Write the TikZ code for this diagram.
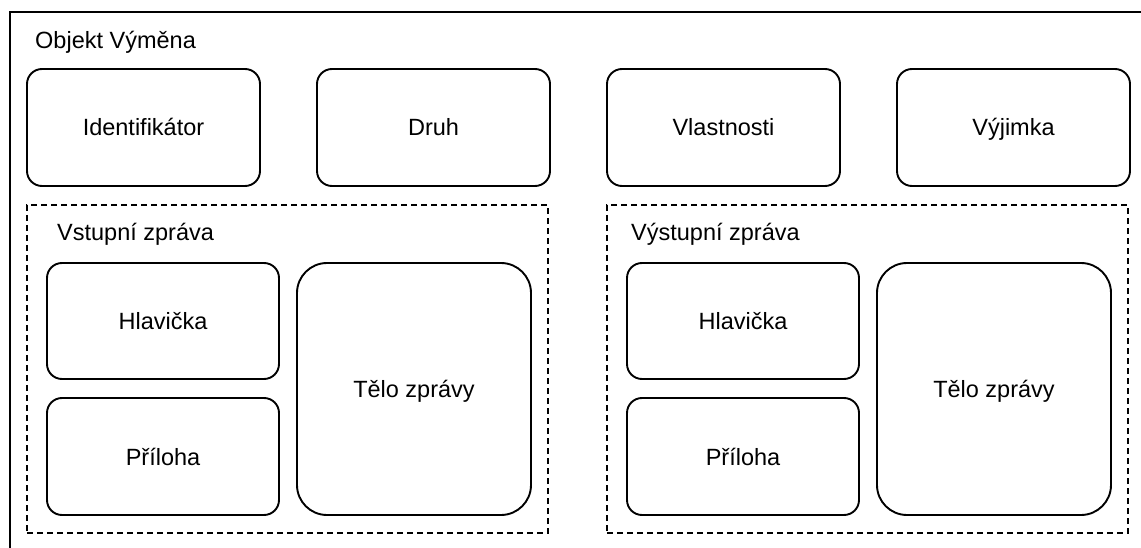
\documentclass[tikz,border=0pt]{standalone}
\usepackage{fontspec}
\setmainfont{Liberation Sans}
\begin{document}
\begin{tikzpicture}[x=1pt,y=-1pt,
  lbl/.style={font=\fontsize{23.5}{28}\selectfont},
  box/.style={draw, line width=1.9pt, rounded corners=15pt, inner sep=0pt,
    text height=17pt, text depth=0pt, lbl},
  bigbox/.style={box, rounded corners=30pt},
  group/.style={draw, line width=1.9pt, dash pattern=on 6pt off 4pt, inner sep=0pt},
  title/.style={lbl, inner sep=0pt, anchor=base west}]
\useasboundingbox (0,0) rectangle (1141,548);
\clip (0,0) rectangle (1141,548);
\fill[white] (0,0) rectangle (1141,548);
% outer frame (extends past the right and bottom edges)
\node[draw, line width=1.9pt, anchor=north west, minimum width=1200pt, minimum height=600pt, inner sep=0pt] (frame) at (9,11) {};
\node[title] (objt) at (35,49) {Objekt Výměna};
% top row
\node[box, minimum width=233pt, minimum height=117pt] (ident) at (143.5,127.5) {Identifikátor};
\node[box, minimum width=233pt, minimum height=117pt] (druh) at (433.5,127.5) {Druh};
\node[box, minimum width=233pt, minimum height=117pt] (vlast) at (723.5,127.5) {Vlastnosti};
\node[box, minimum width=233pt, minimum height=117pt] (vyj) at (1013.5,127.5) {Výjimka};
% input message group
\node[group, minimum width=521pt, minimum height=328pt] (vstup) at (287.5,369) {};
\node[title] (vstupt) at (57,241) {Vstupní zpráva};
\node[box, minimum width=232pt, minimum height=116pt] (hlavL) at (163,321) {Hlavička};
\node[box, minimum width=232pt, minimum height=117pt] (prilL) at (163,456.5) {Příloha};
\node[bigbox, minimum width=234pt, minimum height=252pt] (teloL) at (414,389) {Tělo zprávy};
% output message group
\node[group, minimum width=521pt, minimum height=328pt] (vystup) at (867.5,369) {};
\node[title] (vystupt) at (631,241) {Výstupní zpráva};
\node[box, minimum width=232pt, minimum height=116pt] (hlavR) at (743,321) {Hlavička};
\node[box, minimum width=232pt, minimum height=117pt] (prilR) at (743,456.5) {Příloha};
\node[bigbox, minimum width=234pt, minimum height=252pt] (teloR) at (994,389) {Tělo zprávy};
\end{tikzpicture}
\end{document}
